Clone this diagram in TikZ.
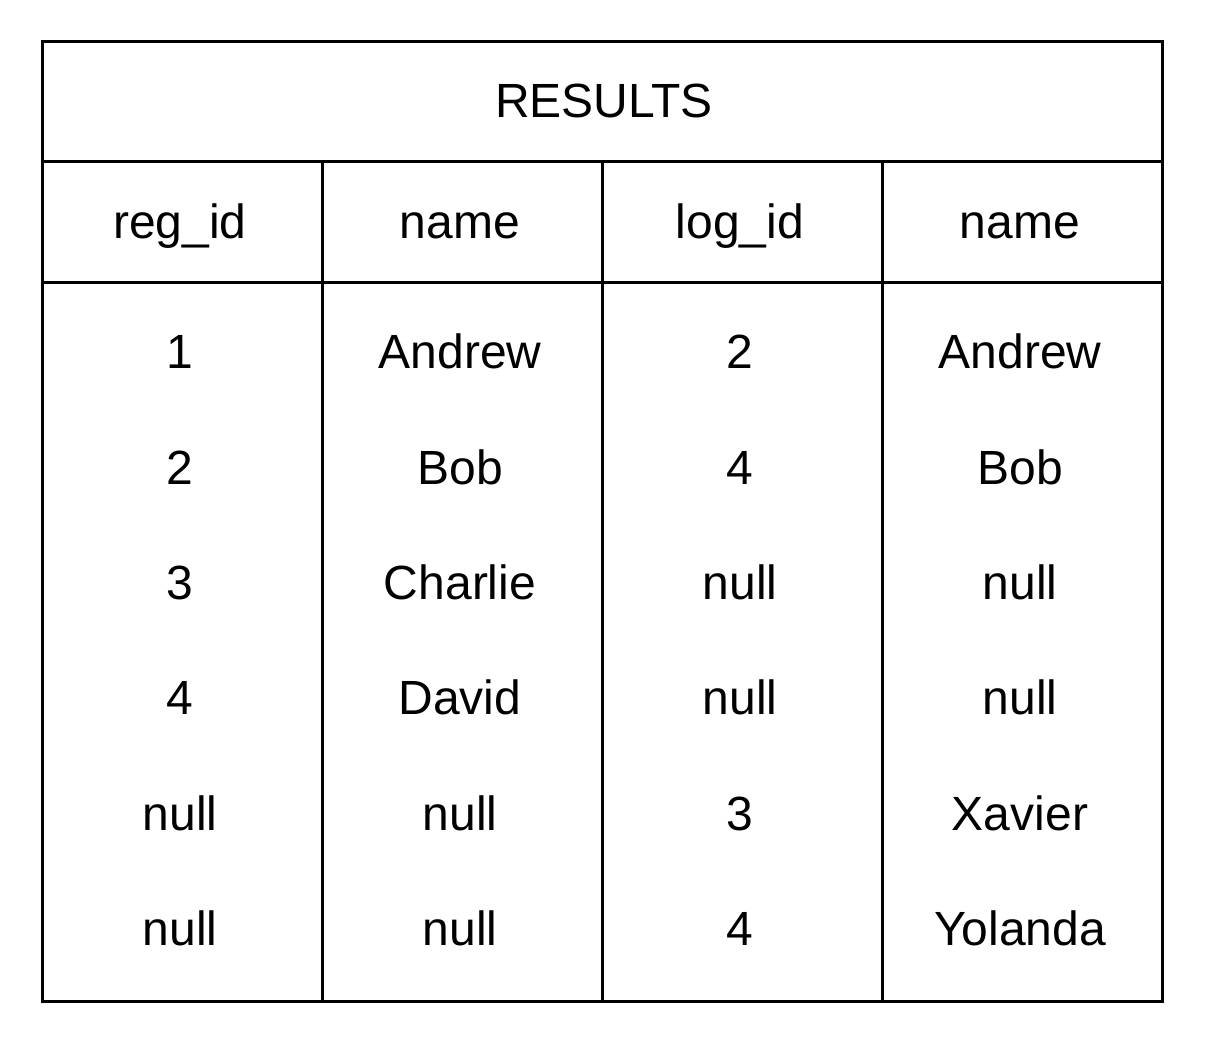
\documentclass[tikz,border=0pt]{standalone}
\usepackage{fontspec}
\setmainfont{Liberation Sans}
\usetikzlibrary{matrix}
\tikzset{cell/.style={minimum width=140pt, minimum height=57.7pt, inner sep=0pt, text height=17.2pt, text depth=0pt}}

\begin{document}
\begin{tikzpicture}[x=0.5pt, y=-0.5pt, line width=1.5pt, font=\fontsize{24}{29}\selectfont]
\useasboundingbox (0,0) rectangle (1208,1048);
% frame and grid
\draw (42,42) rectangle (1162,1001);
\draw (42,162) -- (1162,162) (42,282) -- (1162,282);
\draw (322,162) -- (322,1001) (602,162) -- (602,1001) (882,162) -- (882,1001);
\node[cell] (title) at (604,100) {RESULTS};
\matrix (h) at (600,221)
[matrix of nodes, nodes={cell}, column sep=0pt]
{
reg\_id & name & log\_id & name \\
};
\matrix (m) at (600,640)
[matrix of nodes, nodes={cell}, row sep=0pt, column sep=0pt]
{
1 & Andrew & 2 & Andrew \\
2 & Bob & 4 & Bob \\
3 & Charlie & null & null \\
4 & David & null & null \\
null & null & 3 & Xavier \\
null & null & 4 & Yolanda \\
};
\end{tikzpicture}
\end{document}
